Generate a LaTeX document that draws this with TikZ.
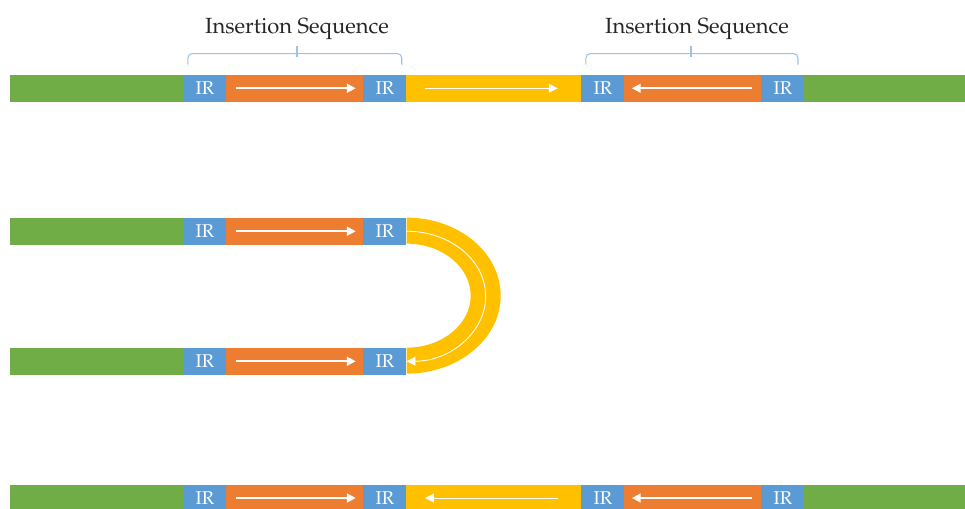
\documentclass[tikz,border=0pt]{standalone}
\usepackage[T1]{fontenc}
\usepackage{mathpazo}
\usetikzlibrary{arrows.meta}
\definecolor{dnagreen}{HTML}{70AD47}
\definecolor{irblue}{HTML}{5B9BD5}
\definecolor{isorange}{HTML}{ED7D31}
\definecolor{midyellow}{HTML}{FFC000}
\definecolor{bracketblue}{HTML}{9DC3E6}
\tikzset{
  seg/.style={anchor=west, inner sep=0pt, minimum height=0.53cm},
  dnal/.style={seg, fill=dnagreen, minimum width=3.46cm},
  dnar/.style={seg, fill=dnagreen, minimum width=3.22cm},
  ir/.style={seg, fill=irblue, minimum width=0.86cm, text=white, font=\fontsize{10.5}{12}\selectfont},
  isbody/.style={seg, fill=isorange, minimum width=2.74cm},
  midpart/.style={seg, fill=midyellow, minimum width=3.5cm},
  fwd/.style={white, line width=1.1pt, -{Triangle[length=5pt,width=5pt]}},
  thinfwd/.style={white, line width=0.5pt, -{Triangle[length=5pt,width=5pt]}},
  bracket/.style={bracketblue, line width=0.6pt, rounded corners=2.5pt},
  islabel/.style={anchor=base, inner sep=0pt, text=black!85, font=\fontsize{12.5}{15}\selectfont}
}
\begin{document}
\begin{tikzpicture}[x=0.02cm, y=-0.02cm]
    \useasboundingbox (0,0) rectangle (965,508);
    \clip (0,0) rectangle (965,508);

    % row 1
    \node[dnal]    at (10,88.25)  (a1) {};
    \node[ir]      at (183,88.25) (a2) {IR};
    \node[isbody]  at (226,88.25) (a3) {};
    \node[ir]      at (363,88.25) (a4) {IR};
    \node[midpart] at (406,88.25) (a5) {};
    \node[ir]      at (581,88.25) (a6) {IR};
    \node[isbody]  at (624,88.25) (a7) {};
    \node[ir]      at (761,88.25) (a8) {IR};
    \node[dnar]    at (804,88.25) (a9) {};

    \draw[fwd] ([xshift=5.7pt]a3.west) -- ([xshift=-4.5pt]a3.east);
    \draw[thinfwd] ([xshift=10.8pt]a5.west) -- ([xshift=-13.6pt]a5.east);
    \draw[fwd] ([xshift=-5.7pt]a7.east) -- ([xshift=4.5pt]a7.west);

    % insertion sequences
    \node[islabel] at (297,33) (s1) {Insertion Sequence};
    \node[islabel] at (697,33) (s2) {Insertion Sequence};
    \draw[bracket] ([xshift=2.8pt,yshift=5.7pt]a2.north west) |- ([xshift=-2.8pt,yshift=12pt]a4.north east) -- ([xshift=-2.8pt,yshift=5.7pt]a4.north east);
    \draw[bracket] ([xshift=2.8pt,yshift=5.7pt]a6.north west) |- ([xshift=-3.8pt,yshift=12pt]a8.north east) -- ([xshift=-3.8pt,yshift=5.7pt]a8.north east);
    \draw[bracket] (s1.south) ++(0,6) -- ++(0,11);
    \draw[bracket] (s2.south) ++(-6,6) -- ++(0,11);

    % rows 2 and 3
    \node[dnal]    at (10,231.25)  (b1) {};
    \node[ir]      at (183,231.25) (b2) {IR};
    \node[isbody]  at (226,231.25) (b3) {};
    \node[ir]      at (363,231.25) (b4) {IR};
    \node[dnal]    at (10,361.25)  (c1) {};
    \node[ir]      at (183,361.25) (c2) {IR};
    \node[isbody]  at (226,361.25) (c3) {};
    \node[ir]      at (363,361.25) (c4) {IR};

    \draw[fwd] ([xshift=5.7pt]b3.west) -- ([xshift=-4.5pt]b3.east);
    \draw[fwd] ([xshift=5.7pt]c3.west) -- ([xshift=-4.5pt]c3.east);

    \fill[midyellow] (b4.north east) arc[start angle=90, end angle=-90, x radius=1.88cm, y radius=1.56cm]
        -- (c4.north east) arc[start angle=-90, end angle=90, x radius=1.28cm, y radius=1.04cm] -- cycle;
    \draw[thinfwd] (b4.east) arc[start angle=90, end angle=-90, x radius=1.58cm, y radius=1.30cm];

    % row 4
    \node[dnal]    at (10,498)  (d1) {};
    \node[ir]      at (183,498) (d2) {IR};
    \node[isbody]  at (226,498) (d3) {};
    \node[ir]      at (363,498) (d4) {IR};
    \node[midpart] at (406,498) (d5) {};
    \node[ir]      at (581,498) (d6) {IR};
    \node[isbody]  at (624,498) (d7) {};
    \node[ir]      at (761,498) (d8) {IR};
    \node[dnar]    at (804,498) (d9) {};

    \draw[fwd] ([xshift=5.7pt]d3.west) -- ([xshift=-4.5pt]d3.east);
    \draw[thinfwd] ([xshift=-13.6pt]d5.east) -- ([xshift=10.8pt]d5.west);
    \draw[fwd] ([xshift=-5.7pt]d7.east) -- ([xshift=4.5pt]d7.west);
\end{tikzpicture}
\end{document}
